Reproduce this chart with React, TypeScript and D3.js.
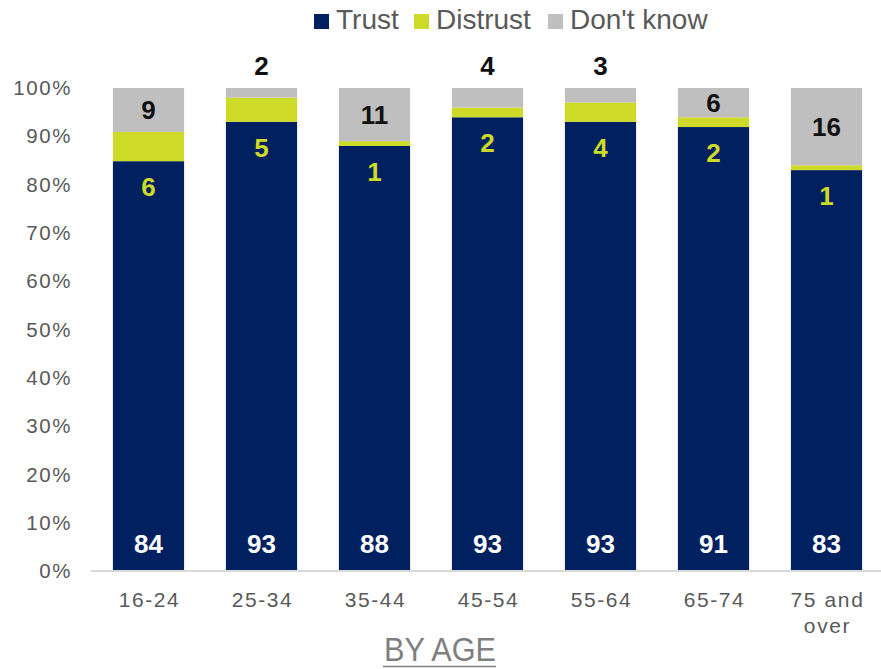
import React from "react";
import * as d3 from "d3";

const categories = ["16-24", "25-34", "35-44", "45-54", "55-64", "65-74", "75 and over"];
const trustValues = [84, 93, 88, 93, 93, 91, 83];
const distrustValues = [6, 5, 1, 2, 4, 2, 1];
const dontKnowValues = [9, 2, 11, 4, 3, 6, 16];
const seriesKeys = ["Trust", "Distrust", "Don't know"];
const seriesColors = ["#002060", "#CDDB28", "#BFBFBF"];
const yTicks = [0, 0.1, 0.2, 0.3, 0.4, 0.5, 0.6, 0.7, 0.8, 0.9, 1];

const W = 881;
const H = 669;
const FONT = "'Liberation Sans', Arial, sans-serif";

export default function App() {
  const rows = categories.map((c, i) => ({
    cat: c,
    Trust: trustValues[i],
    Distrust: distrustValues[i],
    "Don't know": dontKnowValues[i],
  }));
  const stack = d3.stack<any>().keys(seriesKeys).offset(d3.stackOffsetExpand);
  const layers = stack(rows);

  const x = d3.scaleBand<string>().domain(categories).range([92, 883]).paddingInner(0.37).paddingOuter(0.185);
  const y = d3.scaleLinear().domain([0, 1]).range([571, 88]);
  const fmt = d3.format(".0%");

  const legendX = [314, 414, 548];

  return (
    <svg width={W} height={H} style={{ position: "absolute", left: 0, top: 0, display: "block" }} fontFamily={FONT}>
      <rect width={W} height={H} fill="#fff" />
      {/* legend */}
      {seriesKeys.map((k, i) => (
        <g key={k} transform={`translate(${legendX[i]},0)`}>
          <rect x={0} y={14} width={15} height={15} fill={seriesColors[i]} />
          <text x={22} y={29} fontSize={28} fill="#595959">{k}</text>
        </g>
      ))}
      {/* y axis labels */}
      {yTicks.map((t) => (
        <text key={t} x={72} y={y(t)} dy="0.35em" textAnchor="end" fontSize={20.5} fill="#595959" letterSpacing={1.6}>
          {fmt(t)}
        </text>
      ))}
      {/* bars */}
      {layers.map((layer, li) => (
        <g key={layer.key}>
          {layer.map((d, i) => (
            <rect
              key={i}
              x={x(categories[i])}
              width={x.bandwidth()}
              y={y(d[1])}
              height={y(d[0]) - y(d[1])}
              fill={seriesColors[li]}
            />
          ))}
        </g>
      ))}
      {/* axis line */}
      <line x1={91} x2={881} y1={571} y2={571} stroke="#D9D9D9" strokeWidth={2} />
      {/* labels */}
      {layers[0].map((d, i) => {
        const cx = x(categories[i])! + x.bandwidth() / 2;
        return (
          <text key={"t" + i} x={cx} y={544} dy="0.35em" textAnchor="middle" fontSize={26} fontWeight="bold" fill="#fff">
            {trustValues[i]}
          </text>
        );
      })}
      {layers[1].map((d, i) => {
        const cx = x(categories[i])! + x.bandwidth() / 2;
        return (
          <text key={"d" + i} x={cx} y={y(d[0]) + 26} dy="0.35em" textAnchor="middle" fontSize={26} fontWeight="bold" fill="#CDDB28">
            {distrustValues[i]}
          </text>
        );
      })}
      {layers[2].map((d, i) => {
        const cx = x(categories[i])! + x.bandwidth() / 2;
        const inside = dontKnowValues[i] >= 5;
        const cy = inside ? (y(d[0]) + y(d[1])) / 2 : y(1) - 22;
        return (
          <text key={"k" + i} x={cx} y={cy} dy="0.35em" textAnchor="middle" fontSize={26} fontWeight="bold" fill="#111">
            {dontKnowValues[i]}
          </text>
        );
      })}
      {/* x labels */}
      {categories.map((c) => {
        const cx = x(c)! + x.bandwidth() / 2 + 1;
        const parts = c === "75 and over" ? ["75 and", "over"] : [c];
        return (
          <text key={c} x={cx} y={607} textAnchor="middle" fontSize={21} fill="#595959" letterSpacing={1.6}>
            {parts.map((p, j) => (
              <tspan key={j} x={cx} dy={j === 0 ? 0 : 26}>{p}</tspan>
            ))}
          </text>
        );
      })}
      {/* title */}
      <text x={440} y={661} textAnchor="middle" fontSize={34} fill="#7F7F7F"
        textLength={112} lengthAdjust="spacingAndGlyphs">
        BY AGE
      </text>
      <line x1={383} x2={496} y1={666.5} y2={666.5} stroke="#7F7F7F" strokeWidth={1.5} />
    </svg>
  );
}
